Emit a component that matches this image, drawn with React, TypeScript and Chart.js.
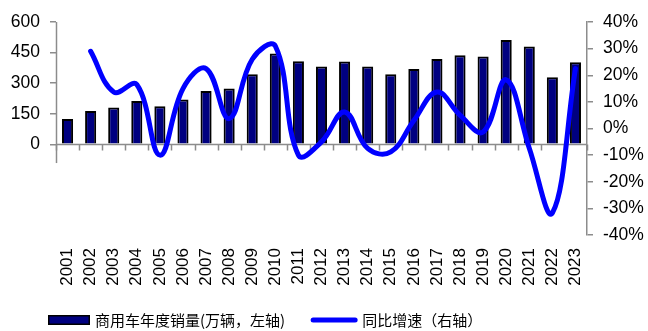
import React, { useEffect, useRef } from "react";
import { Chart, registerables } from "chart.js";

Chart.register(...registerables);

// Annual commercial-vehicle sales (10k units) and year-over-year growth (%)
const years = [
  "2001", "2002", "2003", "2004", "2005", "2006", "2007", "2008", "2009", "2010", "2011", "2012",
  "2013", "2014", "2015", "2016", "2017", "2018", "2019", "2020", "2021", "2022", "2023",
];
const salesWan = [
  124, 163, 181, 213, 187, 220, 262, 274, 344, 445, 408, 382,
  406, 382, 344, 369, 418, 437, 431, 512, 480, 329, 403,
];
const yoyPct: (number | null)[] = [
  null, 29, 13.7, 16.5, -10, 15, 22.5, 3.7, 26, 31, -10, -5,
  6.2, -7.5, -8.8, 3, 13.7, 5, -1.3, 18.3, -7.4, -31.7, 22.5,
];
const leftTicks = [0, 150, 300, 450, 600];
const rightTicks = [-40, -30, -20, -10, 0, 10, 20, 30, 40];

const barLabel = "商用车年度销量(万辆，左轴)";
const lineLabel = "同比增速（右轴）";

const BAR_FILL = "#000080";
const LINE_COLOR = "#0000ff";
const AXIS_COLOR = "#8c8c8c";
const TICK_FONT = "'Liberation Sans', Arial, sans-serif";
const CJK_FONT = "'Noto Sans CJK SC', sans-serif";

// Left axis line stops a little below zero; the zero line carries the category ticks.
const axisLinesPlugin = {
  id: "axisLines",
  beforeDatasetsDraw(chart: any) {
    const { ctx, chartArea, scales } = chart;
    const yL = scales.yLeft;
    const x = scales.x;
    ctx.save();
    ctx.strokeStyle = AXIS_COLOR;
    ctx.lineWidth = 1.5;
    // vertical left axis
    const lx = Math.round(chartArea.left) + 0.5;
    ctx.beginPath();
    ctx.moveTo(lx, yL.getPixelForValue(600));
    ctx.lineTo(lx, yL.getPixelForValue(-92));
    ctx.stroke();
    // horizontal category axis at zero
    const y0 = Math.round(yL.getPixelForValue(0)) + 0.5;
    ctx.beginPath();
    ctx.moveTo(chartArea.left, y0);
    ctx.lineTo(chartArea.right, y0);
    const n = years.length;
    for (let i = 0; i <= n; i++) {
      const px = Math.round(x.getPixelForValue(i - 0.5)) + 0.5;
      ctx.moveTo(px, y0);
      ctx.lineTo(px, y0 + 6);
    }
    ctx.stroke();
    ctx.restore();
  },
};

const legendPlugin = {
  id: "bottomLegend",
  afterDraw(chart: any) {
    const ctx = chart.ctx;
    ctx.save();
    const cy = 320;
    let x = 48;
    ctx.fillStyle = BAR_FILL;
    ctx.fillRect(x, cy - 5, 42, 10);
    ctx.strokeStyle = "#000";
    ctx.lineWidth = 1.5;
    ctx.strokeRect(x + 0.75, cy - 4.25, 40.5, 8.5);
    x += 47;
    ctx.font = `15px ${CJK_FONT}`;
    ctx.fillStyle = "#000";
    ctx.textBaseline = "middle";
    ctx.textAlign = "left";
    ctx.fillText(barLabel, x, cy);
    x += ctx.measureText(barLabel).width + 28;
    ctx.strokeStyle = LINE_COLOR;
    ctx.lineWidth = 5;
    ctx.lineCap = "round";
    ctx.beginPath();
    ctx.moveTo(x, cy);
    ctx.lineTo(x + 42, cy);
    ctx.stroke();
    x += 49;
    ctx.fillText(lineLabel, x, cy);
    ctx.restore();
  },
};

export default function App() {
  const canvasRef = useRef<HTMLCanvasElement | null>(null);

  useEffect(() => {
    const canvas = canvasRef.current;
    if (!canvas) return;
    const chart = new Chart(canvas, {
      type: "bar",
      data: {
        labels: years,
        datasets: [
          {
            type: "line",
            label: lineLabel,
            data: yoyPct,
            yAxisID: "yRight",
            borderColor: LINE_COLOR,
            backgroundColor: LINE_COLOR,
            borderWidth: 5,
            pointRadius: 0,
            tension: 0.4,
            borderCapStyle: "round",
            borderJoinStyle: "round",
            spanGaps: false,
            order: 0,
          } as any,
          {
            type: "bar",
            label: barLabel,
            data: salesWan,
            yAxisID: "yLeft",
            backgroundColor: BAR_FILL,
            borderColor: "#000",
            borderWidth: 2,
            barPercentage: 0.48,
            categoryPercentage: 1,
            order: 1,
          } as any,
        ],
      },
      options: {
        responsive: false,
        animation: false,
        layout: { padding: { left: 0, right: 0, top: 22, bottom: 36 } },
        plugins: {
          legend: { display: false },
          tooltip: { enabled: false },
        },
        scales: {
          x: {
            type: "category",
            position: "bottom",
            offset: true,
            grid: { display: false, drawTicks: false },
            border: { display: false },
            ticks: {
              autoSkip: false,
              minRotation: 90,
              maxRotation: 90,
              padding: 13,
              color: "#000",
              font: { family: TICK_FONT, size: 17 },
            },
            afterFit: (s: any) => {
              s.height = 60;
            },
          },
          yLeft: {
            type: "linear",
            position: "left",
            min: -445,
            max: 600,
            border: { display: false },
            grid: {
              drawOnChartArea: false,
              drawTicks: true,
              tickLength: 6,
              color: AXIS_COLOR,
              lineWidth: 1.5,
            },
            ticks: {
              padding: 10,
              color: "#000",
              font: { family: TICK_FONT, size: 17.5 },
            },
            afterBuildTicks: (s: any) => {
              s.ticks = leftTicks.map((v) => ({ value: v }));
            },
            afterFit: (s: any) => {
              s.width = 56;
            },
          },
          yRight: {
            type: "linear",
            position: "right",
            min: -40,
            max: 40,
            border: { display: true, color: AXIS_COLOR, width: 1.5 },
            grid: {
              drawOnChartArea: false,
              drawTicks: true,
              tickLength: 6,
              color: AXIS_COLOR,
              lineWidth: 1.5,
            },
            ticks: {
              padding: 10,
              color: "#000",
              font: { family: TICK_FONT, size: 17.5 },
              callback: (v: any) => `${v}%`,
            },
            afterBuildTicks: (s: any) => {
              s.ticks = rightTicks.map((v) => ({ value: v }));
            },
            afterFit: (s: any) => {
              s.width = 61;
            },
          },
        },
      },
      plugins: [axisLinesPlugin, legendPlugin],
    });
    return () => chart.destroy();
  }, []);

  return (
    <div style={{ position: "absolute", left: 0, top: 0, width: 648, height: 331, background: "#fff" }}>
      <canvas ref={canvasRef} width={648} height={331} style={{ display: "block" }} />
    </div>
  );
}
